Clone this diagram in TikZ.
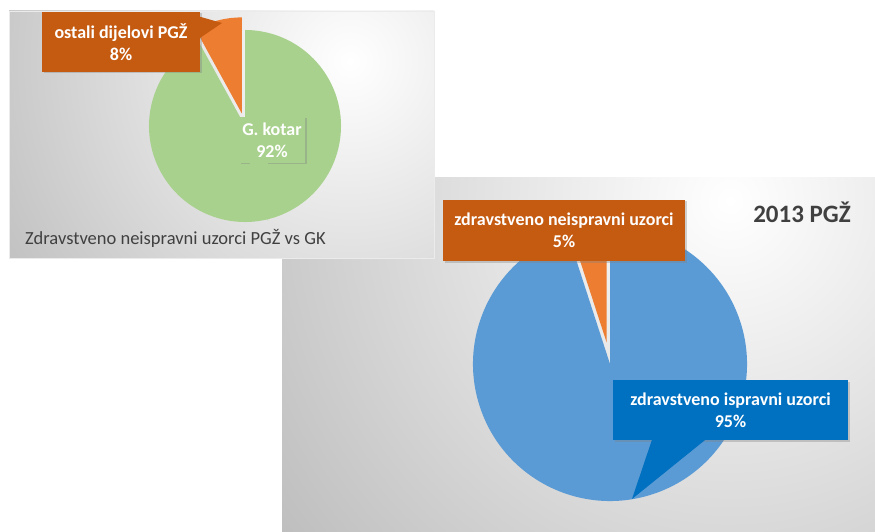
\documentclass[tikz,border=0pt]{standalone}
\usepackage{fontspec}
\setmainfont{Carlito}
\usetikzlibrary{positioning,shadows,calc}
\definecolor{sliceorange}{HTML}{ED7D31}
\definecolor{boxorange}{HTML}{C55A11}
\definecolor{slicegreen}{HTML}{A9D18E}
\definecolor{sliceblue}{HTML}{5B9BD5}
\definecolor{boxblue}{HTML}{0070C0}
\definecolor{txtgray}{HTML}{404040}
\definecolor{bggray}{HTML}{BEBEBE}

\begin{document}
\begin{tikzpicture}[x=1pt,y=1pt,
    lbl/.style={text=white, font=\bfseries\fontsize{18}{22}\selectfont,
                align=center, inner sep=0pt, drop shadow={shadow xshift=1.5pt,
                shadow yshift=-1.5pt, opacity=.35}},
    ttl/.style={text=txtgray, inner sep=0pt}]
  \useasboundingbox (0,0) rectangle (875,531);

  % right panel: 2013 PGZ
  \begin{scope}
    \clip (282,0) rectangle (875,353);
    \fill[bggray] (282,0) rectangle (875,353);
    \shade[inner color=white, outer color=bggray] (730,330) circle (560);
  \end{scope}
  \coordinate (bc) at (610,167);
  \fill[sliceblue] (bc) -- ++(108:137) arc[start angle=108, end angle=450, radius=137] -- cycle;
  \fill[sliceorange] ([shift={(99:22)}]bc) -- ++(90:137) arc[start angle=90, end angle=108, radius=137] -- cycle;
  \node[lbl, fill=boxorange, minimum width=242, minimum height=61] (neisp) at (564,300.5)
    {zdravstveno neispravni uzorci\\5\%};
  \node[lbl, fill=boxblue, minimum width=235, minimum height=60] (isp) at (730.5,121)
    {zdravstveno ispravni uzorci\\95\%};
  \coordinate (isptip) at (632,32);
  \fill[boxblue] ($(isp.south west)+(39,0)$) -- (isptip) -- ($(isp.south west)+(92,0)$) -- cycle;
  \node[ttl, font=\bfseries\fontsize{25}{30}\selectfont] (god) at (802,319) {2013 PGŽ};

  % left panel: PGZ vs GK
  \begin{scope}
    \clip (9,273) rectangle (434,520);
    \fill[bggray] (9,273) rectangle (434,520);
    \shade[inner color=white, outer color=bggray] (350,470) circle (420);
  \end{scope}
  \draw[white!92!black, line width=.6] (9,273) rectangle (434,520);
  \coordinate (gc) at (245,405);
  \fill[slicegreen] (gc) -- ++(118.8:96) arc[start angle=118.8, end angle=450, radius=96] -- cycle;
  \fill[sliceorange] ([shift={(104.4:13)}]gc) -- ++(90:96) arc[start angle=90, end angle=118.8, radius=96] -- cycle;
  \node[lbl, fill=boxorange, minimum width=158, minimum height=60] (ostali) at (121,489)
    {ostali dijelovi PGŽ\\8\%};
  \fill[boxorange] ($(ostali.north east)+(0,-5)$) -- (222,508) -- ($(ostali.north east)+(0,-26)$) -- cycle;
  \node[lbl, fill=slicegreen, minimum width=66, minimum height=46] (gk) at (272,391)
    {G. kotar\\92\%};
  \coordinate (gktip) at (268,310);
  \fill[slicegreen] ($(gk.south west)+(11,0)$) -- (gktip) -- ($(gk.south west)+(29,0)$) -- cycle;
  \node[ttl, anchor=west, font=\fontsize{18.5}{22}\selectfont] (naslov) at (25,293)
    {Zdravstveno neispravni uzorci PGŽ vs GK};
\end{tikzpicture}
\end{document}
